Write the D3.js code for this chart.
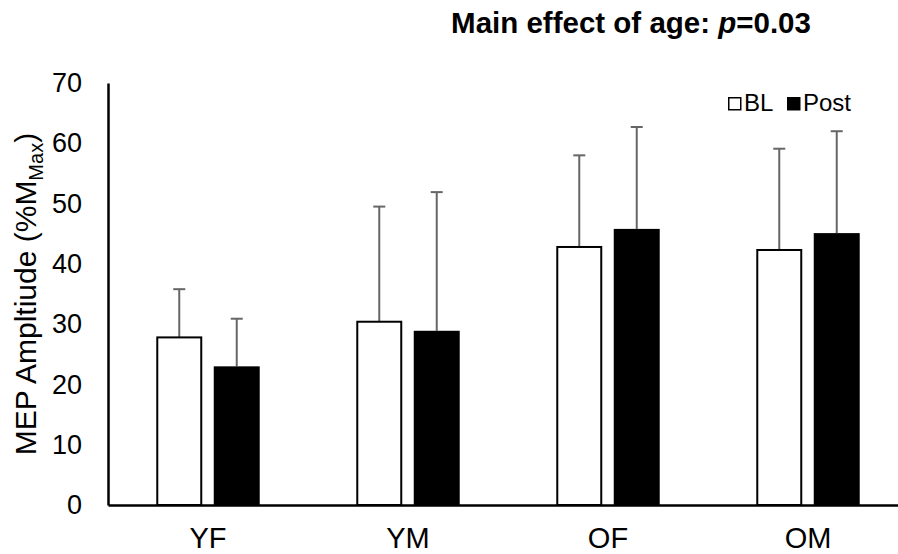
<!DOCTYPE html>
<html>
<head>
<meta charset="utf-8">
<script src="https://cdn.jsdelivr.net/npm/d3@7"></script>
<style>
  html, body { margin: 0; padding: 0; background: #fff; }
  svg { display: block; font-family: "Liberation Sans", Arial, sans-serif; }
</style>
</head>
<body>
<svg id="chart" width="898" height="554"></svg>
<script>
// Groups and conditions
const groups = ["YF", "YM", "OF", "OM"];
const conditions = ["BL", "Post"];

// Mean MEP amplitude (%Mmax) per group
const blValues = [27.8, 30.4, 42.8, 42.3];
const postValues = [23.0, 28.9, 45.8, 45.1];

// Upper error (SD) per group
const blErrors = [8.0, 19.1, 15.2, 16.8];
const postErrors = [7.9, 23.0, 16.9, 16.9];

// Y-axis ticks
const yTicks = [0, 10, 20, 30, 40, 50, 60, 70];

const svg = d3.select("#chart");
const margin = { top: 83, left: 108, bottom: 49 };
const plotRight = 908;
const height = 554;

const x0 = d3.scaleBand()
  .domain(groups)
  .range([margin.left, plotRight])
  .paddingInner(0)
  .paddingOuter(0);

const x1 = d3.scaleBand()
  .domain(conditions)
  .range([0, x0.bandwidth()])
  .paddingInner(0.2)
  .paddingOuter(0.84);

const y = d3.scaleLinear()
  .domain([0, 70])
  .range([height - margin.bottom, margin.top]);

const rows = groups.map((g, i) => ({
  group: g,
  items: [
    { cond: "BL", value: blValues[i], err: blErrors[i] },
    { cond: "Post", value: postValues[i], err: postErrors[i] }
  ]
}));

// Error bars (upper only), drawn behind the bars
const errG = svg.append("g").attr("stroke", "#666").attr("stroke-width", 2);
rows.forEach(r => {
  r.items.forEach(d => {
    const cx = x0(r.group) + x1(d.cond) + x1.bandwidth() / 2;
    errG.append("line")
      .attr("x1", cx).attr("x2", cx)
      .attr("y1", y(d.value)).attr("y2", y(d.value + d.err));
    errG.append("line")
      .attr("x1", cx - 6).attr("x2", cx + 6)
      .attr("y1", y(d.value + d.err)).attr("y2", y(d.value + d.err));
  });
});

// Bars
const groupSel = svg.append("g")
  .selectAll("g")
  .data(rows)
  .join("g")
  .attr("transform", d => `translate(${x0(d.group)},0)`);

groupSel.selectAll("rect")
  .data(d => d.items)
  .join("rect")
  .attr("x", d => x1(d.cond) + (d.cond === "BL" ? 1 : 0))
  .attr("width", d => x1.bandwidth() - (d.cond === "BL" ? 2 : 0))
  .attr("y", d => y(d.value))
  .attr("height", d => y(0) - y(d.value))
  .attr("fill", d => d.cond === "BL" ? "#fff" : "#000")
  .attr("stroke", d => d.cond === "BL" ? "#000" : "none")
  .attr("stroke-width", 2);

// Y axis
const yAxis = d3.axisLeft(y).tickValues(yTicks).tickSize(0).tickPadding(26);
const yG = svg.append("g")
  .attr("transform", `translate(${margin.left},0)`)
  .call(yAxis);
yG.select(".domain").attr("stroke", "#000").attr("stroke-width", 2.5);
yG.selectAll("text")
  .attr("font-size", 27)
  .attr("font-family", "Liberation Sans, Arial, sans-serif")
  .attr("fill", "#000");

// X axis
const xAxis = d3.axisBottom(x0).tickSize(0).tickPadding(22);
const xG = svg.append("g")
  .attr("transform", `translate(0,${y(0)})`)
  .call(xAxis);
xG.select(".domain").attr("stroke", "#000").attr("stroke-width", 2.5);
xG.selectAll("text")
  .attr("font-size", 29)
  .attr("font-family", "Liberation Sans, Arial, sans-serif")
  .attr("fill", "#000");

// Y axis title
const yTitle = svg.append("text")
  .attr("transform", `translate(36,${(y(0) + y(70)) / 2}) rotate(-90)`)
  .attr("text-anchor", "middle")
  .attr("font-size", 30)
  .attr("fill", "#000");
yTitle.append("tspan").text("MEP Ampltiude (%M");
yTitle.append("tspan").text("Max").attr("font-size", 20).attr("dy", 7);
yTitle.append("tspan").text(")").attr("dy", -7);

// Title
const title = svg.append("text")
  .attr("x", 631)
  .attr("y", 33)
  .attr("text-anchor", "middle")
  .attr("font-size", 29.5)
  .attr("font-weight", "bold")
  .attr("fill", "#000");
title.append("tspan").text("Main effect of age: ");
title.append("tspan").text("p").attr("font-style", "italic");
title.append("tspan").text("=0.03");

// Legend
const legend = svg.append("g");
const legendItems = [
  { cond: "BL", x: 728 },
  { cond: "Post", x: 787 }
];
legendItems.forEach(d => {
  legend.append("rect")
    .attr("x", d.x + 0.75).attr("y", 97.75)
    .attr("width", 12).attr("height", 12)
    .attr("fill", d.cond === "BL" ? "#fff" : "#000")
    .attr("stroke", "#000").attr("stroke-width", 1.5);
  legend.append("text")
    .attr("x", d.x + 16)
    .attr("y", 111)
    .attr("font-size", 24)
    .attr("fill", "#000")
    .text(d.cond);
});
</script>
</body>
</html>
